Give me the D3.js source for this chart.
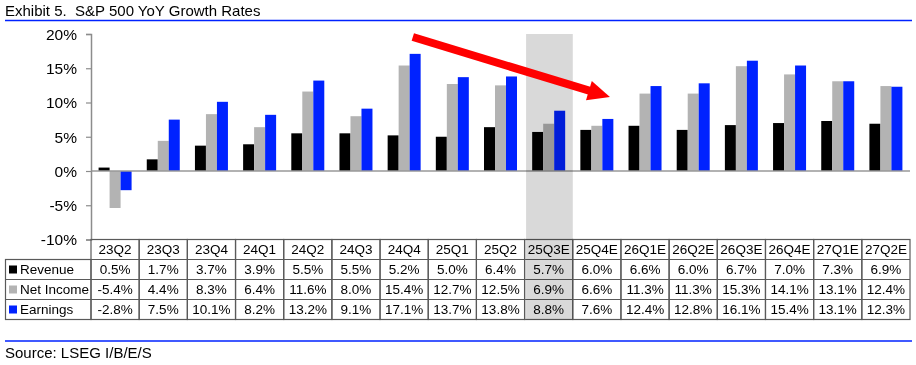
<!DOCTYPE html>
<html><head><meta charset="utf-8">
<script src="https://cdn.jsdelivr.net/npm/d3@7"></script>
<style>body{margin:0;background:#fff}svg{display:block;font-family:"Liberation Sans",Arial,sans-serif}</style>
</head><body>
<svg id="c" width="916" height="365"></svg>
<script>
const categories = ["23Q2","23Q3","23Q4","24Q1","24Q2","24Q3","24Q4","25Q1","25Q2","25Q3E","25Q4E","26Q1E","26Q2E","26Q3E","26Q4E","27Q1E","27Q2E"];
const revenue   = [0.5,1.7,3.7,3.9,5.5,5.5,5.2,5.0,6.4,5.7,6.0,6.6,6.0,6.7,7.0,7.3,6.9];
const netIncome = [-5.4,4.4,8.3,6.4,11.6,8.0,15.4,12.7,12.5,6.9,6.6,11.3,11.3,15.3,14.1,13.1,12.4];
const earnings  = [-2.8,7.5,10.1,8.2,13.2,9.1,17.1,13.7,13.8,8.8,7.6,12.4,12.8,16.1,15.4,13.1,12.3];
const seriesNames = ["Revenue","Net Income","Earnings"];
const yTicks = [-10,-5,0,5,10,15,20];
const highlight = "25Q3E";
const arrowFrom = "24Q4", arrowTo = "26Q1E";

const colors = {"Revenue":"#000000","Net Income":"#b3b3b3","Earnings":"#0022ff"};
const series = [
  {name:"Revenue", values:revenue},
  {name:"Net Income", values:netIncome},
  {name:"Earnings", values:earnings}
];
const svg = d3.select("#c");
const blue = "#0022ff";

// title
svg.append("text").attr("x",5).attr("y",16).attr("font-size",15).attr("fill","#000")
  .style("white-space","pre").text("Exhibit 5.  S&P 500 YoY Growth Rates");
svg.append("line").attr("x1",5).attr("x2",912).attr("y1",20.5).attr("y2",20.5).attr("stroke",blue).attr("stroke-width",1.6);
svg.append("line").attr("x1",5).attr("x2",912).attr("y1",341).attr("y2",341).attr("stroke",blue).attr("stroke-width",1.6);
svg.append("text").attr("x",5).attr("y",358).attr("font-size",15).text("Source: LSEG I/B/E/S");

const x = d3.scaleBand().domain(categories).range([91,910]);
const xs = d3.scaleBand().domain(seriesNames).range([0,x.bandwidth()]).paddingOuter(0.69);
const y = d3.scaleLinear().domain([-10,20]).range([239.5,34]);

// bars
series.forEach(s=>{
  svg.append("g").selectAll("rect").data(s.values).join("rect")
    .attr("x",(d,i)=>x(categories[i])+xs(s.name))
    .attr("width",xs.bandwidth())
    .attr("y",d=>y(Math.max(0,d)))
    .attr("height",d=>Math.abs(y(d)-y(0)))
    .attr("fill",colors[s.name]);
});

// zero line
svg.append("line").attr("x1",91).attr("x2",910).attr("y1",y(0)).attr("y2",y(0)).attr("stroke","#999").attr("stroke-width",1.5);

// y axis
const ya = svg.append("g").attr("transform","translate(91,0)")
  .call(d3.axisLeft(y).tickValues(yTicks).tickSize(5).tickPadding(9).tickFormat(d=>d+"%"));
ya.select(".domain").attr("stroke","#8c8c8c").attr("stroke-width",1.5);
ya.selectAll(".tick line").attr("stroke","#8c8c8c").attr("stroke-width",1.2);
ya.selectAll(".tick text").attr("font-size",15.5).attr("fill","#000").attr("font-family","Liberation Sans, Arial, sans-serif").attr("dy","0.35em");

// table
const rowH = 20, tableTop = 239.5, leftX = 5.5, rightX = 910;
const tg = svg.append("g");
const bc = "#5a5a5a";
categories.forEach((c,i)=>{
  tg.append("rect").attr("x",x(c)).attr("y",tableTop).attr("width",x.bandwidth()).attr("height",rowH*4)
    .attr("fill","none").attr("stroke",bc).attr("stroke-width",1.2);
  tg.append("text").attr("x",x(c)+x.bandwidth()/2).attr("y",tableTop+rowH/2).attr("dy","0.36em")
    .attr("text-anchor","middle").attr("font-size",13.5).text(c);
});
for(let r=1;r<=3;r++){
  tg.append("line").attr("x1",leftX).attr("x2",rightX).attr("y1",tableTop+rowH*r).attr("y2",tableTop+rowH*r).attr("stroke",bc).attr("stroke-width",1.2);
}
tg.append("rect").attr("x",leftX).attr("y",tableTop+rowH).attr("width",91-leftX).attr("height",rowH*3)
  .attr("fill","none").attr("stroke",bc).attr("stroke-width",1.2);
series.forEach((s,r)=>{
  const yy = tableTop+rowH*(r+1);
  tg.append("rect").attr("x",9).attr("y",yy+6).attr("width",8).attr("height",8).attr("fill",colors[s.name]);
  tg.append("text").attr("x",20).attr("y",yy+rowH/2).attr("dy","0.36em").attr("font-size",13.5).text(s.name);
  s.values.forEach((v,i)=>{
    tg.append("text").attr("x",x(categories[i])+x.bandwidth()/2).attr("y",yy+rowH/2).attr("dy","0.36em")
      .attr("text-anchor","middle").attr("font-size",13.5).text(v.toFixed(1)+"%");
  });
});

// highlight overlay
svg.append("rect").attr("x",x(highlight)+1.5).attr("width",x.bandwidth()-1.5)
  .attr("y",34).attr("height",tableTop+rowH*4-34)
  .attr("fill","#d9d9d9").style("mix-blend-mode","multiply");

// red arrow
const ax1 = x(arrowFrom)+x.bandwidth()*0.68, ay1 = 37;
const ax2 = x(arrowTo)-11, ay2 = 97;
const ang = Math.atan2(ay2-ay1, ax2-ax1);
const headL = 22, headW = 10, shaft = 4;
const bx = ax2-headL*Math.cos(ang), by = ay2-headL*Math.sin(ang);
const nx = -Math.sin(ang), ny = Math.cos(ang);
svg.append("line").attr("x1",ax1).attr("y1",ay1).attr("x2",bx+2*Math.cos(ang)).attr("y2",by+2*Math.sin(ang))
  .attr("stroke","#ff0000").attr("stroke-width",shaft*2);
svg.append("polygon").attr("fill","#ff0000")
  .attr("points",[[ax2,ay2],[bx+nx*headW,by+ny*headW],[bx-nx*headW,by-ny*headW]].map(p=>p.join(",")).join(" "));
</script>
</body></html>
